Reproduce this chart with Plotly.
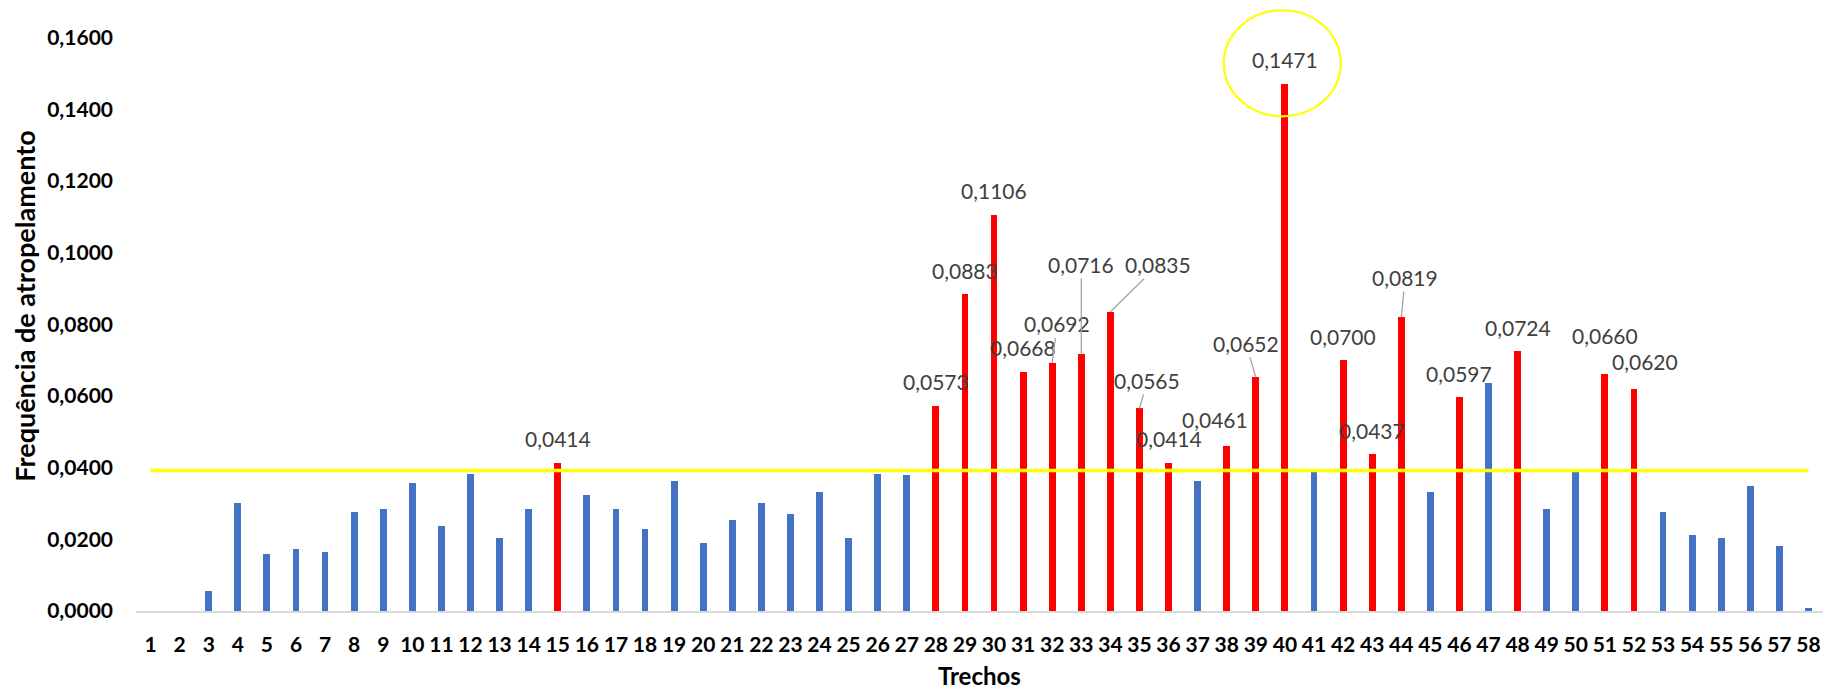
import plotly.graph_objects as go

# Trechos (road segments) and roadkill frequency per segment
trechos = list(range(1, 59))
frequencia = [
    0.0000, 0.0000, 0.0055, 0.0301, 0.0158, 0.0174, 0.0166, 0.0277, 0.0285, 0.0356,
    0.0237, 0.0381, 0.0205, 0.0285, 0.0414, 0.0325, 0.0285, 0.0230, 0.0364, 0.0190,
    0.0253, 0.0300, 0.0270, 0.0333, 0.0205, 0.0381, 0.0380, 0.0573, 0.0883, 0.1106,
    0.0668, 0.0692, 0.0716, 0.0835, 0.0565, 0.0414, 0.0364, 0.0461, 0.0652, 0.1471,
    0.0388, 0.0700, 0.0437, 0.0819, 0.0333, 0.0597, 0.0635, 0.0724, 0.0285, 0.0388,
    0.0660, 0.0620, 0.0277, 0.0213, 0.0205, 0.0349, 0.0181, 0.0007,
]
# Segments flagged as hotspots (drawn in red and labelled)
hotspots = [15, 28, 29, 30, 31, 32, 33, 34, 35, 36, 38, 39, 40, 42, 43, 44, 46, 48, 51, 52]
limiar = 0.0392  # reference line

BLUE = "#4472C4"
RED = "#FF0000"
YELLOW = "#FFFF00"
LABEL_GREY = "#404040"
FONT = "Lato, 'Open Sans', sans-serif"

colors = [RED if t in hotspots else BLUE for t in trechos]

fig = go.Figure()
fig.add_trace(go.Bar(
    x=trechos, y=frequencia, width=0.235,
    marker=dict(color=colors, line=dict(width=0)),
    showlegend=False, hoverinfo="x+y",
))
fig.add_trace(go.Scatter(
    x=trechos, y=[limiar] * len(trechos), mode="lines",
    line=dict(color=YELLOW, width=3.6), showlegend=False, hoverinfo="skip",
))

def fmt(v):
    return f"{v:.4f}".replace(".", ",")

# Label placement: leader-line labels use (ax, ay); others use (xshift, yshift)
leader = {32: (5, -39), 33: (0, -90), 34: (48, -47), 35: (8, -28), 39: (-10, -34), 44: (4, -40)}
shifted = {38: (-12, 26), 51: (0, 39), 52: (11, 27)}

annotations = []
for t in hotspots:
    v = frequencia[t - 1]
    base = dict(x=t, y=v, xref="x", yref="y", text=fmt(v),
                font=dict(family=FONT, size=21, color=LABEL_GREY))
    if t in leader:
        ax, ay = leader[t]
        annotations.append(dict(base, showarrow=True, ax=ax, ay=ay, axref="pixel", ayref="pixel",
                                arrowhead=0, arrowwidth=1.3, arrowcolor="#A6A6A6", standoff=0))
    else:
        xs, ys = shifted.get(t, (0, 24))
        annotations.append(dict(base, showarrow=False, xshift=xs, yshift=ys))

# Axis titles
annotations.append(dict(text="<b>Frequência de atropelamento</b>", xref="paper", yref="paper",
                        x=-0.066, y=0.505, textangle=-90, showarrow=False,
                        xanchor="center", yanchor="middle",
                        font=dict(family=FONT, size=27, color="#000000")))
annotations.append(dict(text="<b>Trechos</b>", xref="paper", yref="paper",
                        x=0.5, y=-0.107, showarrow=False, xanchor="center", yanchor="middle",
                        font=dict(family=FONT, size=24, color="#000000")))

# Highlight of the maximum segment
imax = frequencia.index(max(frequencia))
fig.add_shape(type="circle", xref="x", yref="y",
              x0=trechos[imax] - 2.1, x1=trechos[imax] + 1.92,
              y0=0.1380, y1=0.1676,
              line=dict(color=YELLOW, width=2.2), layer="above")

fig.update_layout(
    width=1831, height=692,
    margin=dict(l=136, r=8, t=7, b=81),
    plot_bgcolor="white", paper_bgcolor="white",
    bargap=0.0,
    annotations=annotations,
    font=dict(family=FONT),
)
fig.update_xaxes(
    range=[0.5, 58.5], tickmode="array", tickvals=trechos, ticktext=[str(t) for t in trechos],
    tickfont=dict(family=FONT, size=21, color="#000000", weight="bold"),
    showgrid=False, zeroline=False, showline=True, linecolor="#D9D9D9", linewidth=1.5,
    ticks="", ticklabelstandoff=14, fixedrange=True,
)
fig.update_yaxes(
    range=[0, 0.1685], tickmode="array",
    tickvals=[0, 0.02, 0.04, 0.06, 0.08, 0.10, 0.12, 0.14, 0.16],
    ticktext=[fmt(v) for v in [0, 0.02, 0.04, 0.06, 0.08, 0.10, 0.12, 0.14, 0.16]],
    tickfont=dict(family=FONT, size=21, color="#000000", weight="bold"),
    showgrid=False, zeroline=False, showline=False, ticks="", ticklabelstandoff=22,
    fixedrange=True,
)

fig.write_html("out.html")
